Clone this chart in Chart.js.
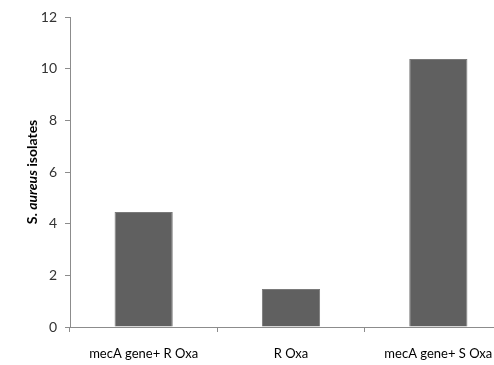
<!DOCTYPE html>
<html>
<head>
<meta charset="utf-8">
<script src="https://cdn.jsdelivr.net/npm/chart.js@4"></script>
<style>
  html, body { margin: 0; padding: 0; background: #fff; overflow: hidden; }
  #wrap { position: relative; width: 514px; height: 365px; }
</style>
</head>
<body>
<div id="wrap"><canvas id="c"></canvas></div>
<script>
const categories = ["mecA gene+ R Oxa", "R Oxa", "mecA gene+ S Oxa"];
const isolates = [4.45, 1.47, 10.37];
const yTicks = [0, 2, 4, 6, 8, 10, 12];
const titleParts = [["S. ", "normal"], ["aureus", "italic"], [" isolates", "normal"]];

const FONT = "Lato, 'Open Sans', sans-serif";
const axisColor = "#8c8c8c";

const yTitlePlugin = {
  id: "yTitle",
  afterDraw(chart) {
    const ctx = chart.ctx;
    const area = chart.chartArea;
    ctx.save();
    ctx.translate(32, (area.top + area.bottom) / 2);
    ctx.rotate(-Math.PI / 2);
    ctx.fillStyle = "#000";
    ctx.textBaseline = "middle";
    let total = 0;
    const fonts = titleParts.map(p => p[1] + " bold 14px " + FONT);
    titleParts.forEach((p, i) => { ctx.font = fonts[i]; total += ctx.measureText(p[0]).width; });
    let x = -total / 2;
    titleParts.forEach((p, i) => {
      ctx.font = fonts[i];
      ctx.textAlign = "left";
      ctx.fillText(p[0], x, 0);
      x += ctx.measureText(p[0]).width;
    });
    ctx.restore();
  }
};

new Chart(document.getElementById("c"), {
  type: "bar",
  data: {
    labels: categories,
    datasets: [{
      data: isolates,
      backgroundColor: "#606060",
      borderColor: "#7a7a7a",
      borderWidth: 1,
      categoryPercentage: 1,
      barPercentage: 0.395
    }]
  },
  options: {
    responsive: true,
    maintainAspectRatio: false,
    animation: false,
    devicePixelRatio: 1,
    layout: { padding: { top: 17, right: 2, left: 0, bottom: 0 } },
    plugins: { legend: { display: false }, tooltip: { enabled: false } },
    scales: {
      x: {
        offset: true,
        grid: { display: true, drawOnChartArea: false, offset: true, tickLength: 5, color: axisColor },
        border: { display: true, color: axisColor },
        ticks: { color: "#000", font: { family: FONT, size: 13 }, padding: 14, maxRotation: 0 },
        afterFit(axis) { axis.height = 38; }
      },
      y: {
        min: 0, max: 12,
        afterBuildTicks(axis) { axis.ticks = yTicks.map(v => ({ value: v })); },
        grid: { display: true, drawOnChartArea: false, tickLength: 5, color: axisColor },
        border: { display: true, color: axisColor },
        ticks: { color: "#333", font: { family: FONT, size: 14 }, padding: 8 },
        afterFit(axis) { axis.width = 70; axis.paddingTop = 0; axis.paddingBottom = 0; }
      }
    }
  },
  plugins: [yTitlePlugin]
});
</script>
</body>
</html>
